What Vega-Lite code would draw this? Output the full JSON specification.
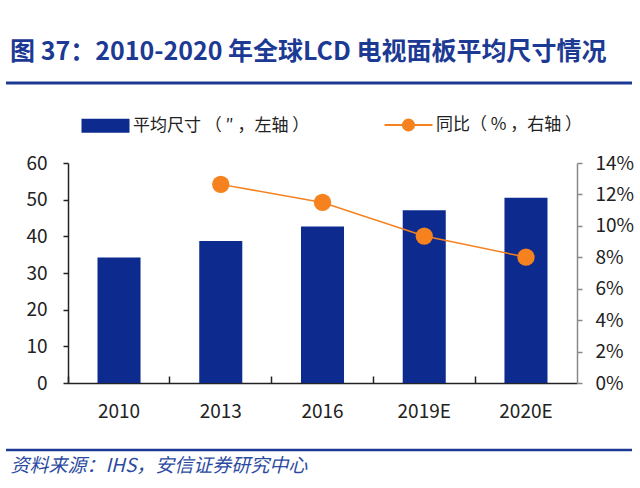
{
  "$schema": "https://vega.github.io/schema/vega-lite/v6.json",
  "width": 509,
  "height": 220,
  "autosize": {"type": "none"},
  "padding": {"left": 68, "top": 163, "right": 63, "bottom": 105},
  "background": "white",
  "title": {
    "text": "图 37：2010-2020 年全球LCD 电视面板平均尺寸情况",
    "anchor": "start",
    "frame": "group",
    "dx": -58,
    "offset": 17,
    "font": "Noto Sans CJK SC",
    "fontSize": 25,
    "fontWeight": "bold",
    "color": "#1c3a94"
  },
  "data": {
    "values": [
      {"year": "2010", "size": 34.2, "yoy": null},
      {"year": "2013", "size": 38.7, "yoy": 0.1264},
      {"year": "2016", "size": 42.7, "yoy": 0.1149},
      {"year": "2019E", "size": 47.1, "yoy": 0.0935},
      {"year": "2020E", "size": 50.5, "yoy": 0.0801}
    ]
  },
  "encoding": {
    "x": {
      "field": "year",
      "type": "nominal",
      "sort": null,
      "scale": {"paddingInner": 0.577, "paddingOuter": 0.29},
      "axis": {
        "title": "资料来源：IHS，安信证券研究中心",
        "titleAnchor": "start",
        "titleAlign": "left",
        "titleX": -58,
        "titleY": 82,
        "titleBaseline": "middle",
        "titleFont": "Noto Sans CJK SC",
        "titleFontStyle": "italic",
        "titleFontWeight": "normal",
        "titleFontSize": 19,
        "titleColor": "#2b4ba0",
        "labelAngle": 0,
        "labelFont": "Noto Sans CJK SC",
        "labelFontSize": 19,
        "labelColor": "#222222",
        "labelPadding": 26,
        "tickSize": -7,
        "bandPosition": -0.682,
        "tickColor": "#222222",
        "tickWidth": 1.5,
        "domainColor": "#222222",
        "domainWidth": 1.5
      }
    }
  },
  "layer": [
    {
      "data": {"values": [{}]},
      "mark": {"type": "rule", "color": "#1c3a94", "strokeWidth": 3},
      "encoding": {"x": {"value": -62}, "x2": {"value": 564}, "y": {"value": -80}}
    },
    {
      "data": {"values": [{}]},
      "mark": {"type": "rule", "color": "#1c3a94", "strokeWidth": 2.5},
      "encoding": {"x": {"value": -62}, "x2": {"value": 564}, "y": {"value": 287}}
    },
    {
      "mark": {"type": "bar"},
      "encoding": {
        "y": {
          "field": "size",
          "type": "quantitative",
          "scale": {"domain": [0, 60]},
          "axis": {
            "title": null,
            "values": [0, 10, 20, 30, 40, 50, 60],
            "grid": false,
            "labelFont": "Noto Sans CJK SC",
            "labelFontSize": 19,
            "labelColor": "#222222",
            "labelPadding": 16,
            "tickSize": 5,
            "tickColor": "#222222",
            "tickWidth": 1.5,
            "domainColor": "#222222",
            "domainWidth": 1.5
          }
        },
        "color": {
          "datum": "平均尺寸 （ ″  ，左轴 ）",
          "scale": {
            "domain": ["平均尺寸 （ ″  ，左轴 ）", "同比（ % ，右轴 ）"],
            "range": ["#0d2b8e", "#f5821f"]
          },
          "legend": {
            "title": null,
            "orient": "none",
            "legendX": 29,
            "legendY": -47,
            "direction": "horizontal",
            "padding": 0,
            "symbolSize": 2304,
            "labelFont": "Noto Sans CJK SC",
            "labelFontSize": 17,
            "labelColor": "#222222",
            "labelLimit": 400,
            "labelOffset": 19,
            "columnPadding": 66,
            "encode": {
              "symbols": {
                "update": {
                  "shape": {"signal": "datum.index === 0 ? 'M-1,-0.29H1V0.29H-1Z' : 'M-1,0H1M-0.23,0A0.23,0.23,0,1,1,0.23,0A0.23,0.23,0,1,1,-0.23,0Z'"},
                  "fill": {"signal": "datum.index === 0 ? '#0d2b8e' : '#f07a22'"},
                  "stroke": {"signal": "datum.index === 0 ? '#0d2b8e' : '#f2a060'"},
                  "strokeWidth": {"signal": "datum.index === 0 ? 0 : 2"},
                  "opacity": {"value": 1},
                  "fillOpacity": {"value": 1}
                }
              }
            }
          }
        }
      }
    },
    {
      "encoding": {
        "y": {
          "field": "yoy",
          "type": "quantitative",
          "scale": {"domain": [0, 0.14]},
          "axis": {
            "orient": "right",
            "title": null,
            "format": ".0%",
            "values": [0, 0.02, 0.04, 0.06, 0.08, 0.1, 0.12, 0.14],
            "grid": false,
            "labelFont": "Noto Sans CJK SC",
            "labelFontSize": 19,
            "labelColor": "#222222",
            "labelPadding": 13,
            "tickSize": 5,
            "tickColor": "#888888",
            "tickWidth": 1.5,
            "domainColor": "#888888",
            "domainWidth": 1.5
          }
        }
      },
      "layer": [
        {
          "mark": {"type": "line", "strokeWidth": 1.5},
          "encoding": {"color": {"datum": "同比（ % ，右轴 ）"}}
        },
        {
          "mark": {"type": "point", "filled": true, "size": 300, "opacity": 1, "color": "#f5821f"}
        }
      ]
    }
  ],
  "resolve": {"scale": {"y": "independent"}},
  "config": {"view": {"stroke": null}}
}
